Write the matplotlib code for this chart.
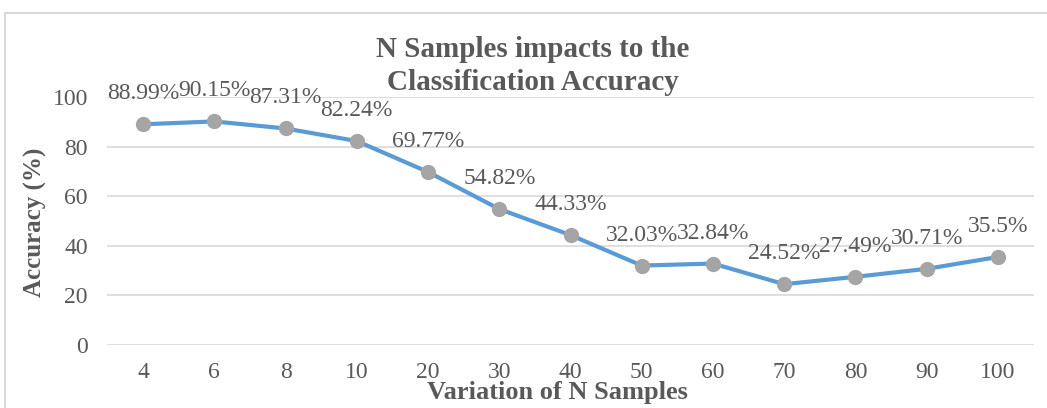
import numpy as np
import matplotlib
matplotlib.use("Agg")
from matplotlib import pyplot as plt
from matplotlib.patches import Rectangle

# data
n_samples = ["4", "6", "8", "10", "20", "30", "40", "50", "60", "70", "80", "90", "100"]
accuracy = [88.99, 90.15, 87.31, 82.24, 69.77, 54.82, 44.33, 32.03, 32.84, 24.52, 27.49, 30.71, 35.5]
yticks = [0, 20, 40, 60, 80, 100]

plt.rcParams['font.family'] = ['Liberation Serif', 'DejaVu Serif']
grey = '#595959'

W, H = 1047, 408
fig = plt.figure(figsize=(W / 100, H / 100), dpi=100)
ax = fig.add_axes([107.4 / W, 1 - 345 / H, (1033.6 - 107.4) / W, (345 - 97) / H])

x = np.arange(len(n_samples))
ax.plot(x, accuracy, color='#5B9BD5', lw=3, marker='o', ms=10,
        mfc='#A5A5A5', mec='#A5A5A5', zorder=3, solid_capstyle='round')

# data labels above each point
for xi, v in zip(x, accuracy):
    lab = ('%g' % v) + '%'
    ax.annotate(lab, (xi, v), xytext=(0, 22), textcoords='offset points',
                ha='center', va='center', fontsize=17, color=grey)

ax.set_xlim(-0.5, len(n_samples) - 0.5)
ax.set_ylim(0, 100)
ax.set_yticks(yticks)
ax.set_xticks(x)
ax.set_xticklabels(n_samples)
ax.tick_params(length=0, labelsize=17, labelcolor=grey)
ax.tick_params(axis='x', pad=12)
ax.tick_params(axis='y', pad=14)
ax.grid(axis='y', color='#D9D9D9', lw=1.2)
ax.set_axisbelow(True)
for s in ax.spines.values():
    s.set_visible(False)
ax.set_facecolor('none')

fig.text(533 / W, 1 - 66 / H, 'N Samples impacts to the\nClassification Accuracy',
         ha='center', va='center', fontsize=21, fontweight='bold', color=grey,
         linespacing=1.3)
fig.text(557 / W, 1 - 393 / H, 'Variation of N Samples', ha='center', va='center',
         fontsize=19, fontweight='bold', color=grey)
fig.text(35 / W, 1 - 222 / H, 'Accuracy (%)', ha='center', va='center', rotation=90,
         fontsize=18, fontweight='bold', color=grey)

# chart border (Excel style frame)
fig.patches.append(Rectangle((5 / W, -0.2), 2, 1.2 - 13 / H, transform=fig.transFigure,
                             fill=False, ec='#D9D9D9', lw=1.5, zorder=-1))

fig.savefig('out.png', dpi=100)
